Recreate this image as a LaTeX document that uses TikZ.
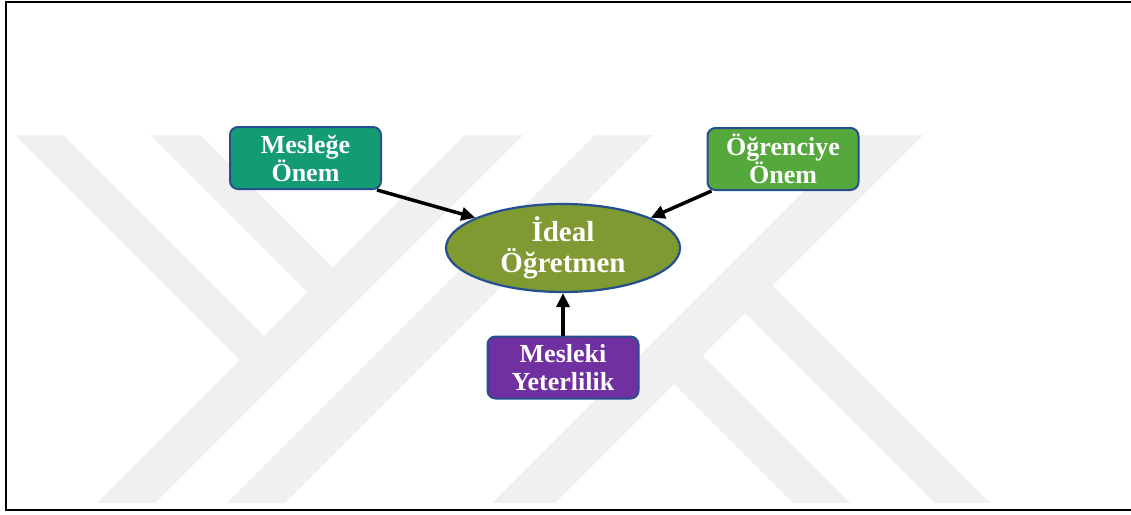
\documentclass[tikz,border=0pt]{standalone}
\usepackage{fontspec}
\setmainfont{Liberation Serif}
\usetikzlibrary{arrows.meta,shapes.geometric}

\definecolor{wmark}{HTML}{F0F0F0}
\definecolor{edgeblue}{HTML}{24508F}
\definecolor{tealbox}{HTML}{139B74}
\definecolor{greenbox}{HTML}{55A93C}
\definecolor{olivefill}{HTML}{7F9A32}
\definecolor{purplebox}{HTML}{7030A0}

\tikzset{
  card/.style={draw=edgeblue, line width=2pt, rounded corners=8pt,
    minimum width=151pt, minimum height=62pt, inner sep=0pt,
    align=center, text=white, font=\bfseries\fontsize{26}{28}\selectfont},
  hub/.style={ellipse, draw=edgeblue, line width=2.2pt, fill=olivefill,
    minimum width=234pt, minimum height=78pt, inner sep=0pt,
    align=center, text=white, font=\bfseries\fontsize{29}{31}\selectfont},
  arr/.style={-{Triangle[length=14pt,width=13pt]}, line width=3.5pt, black},
  band/.style={fill=wmark, draw=none}
}

\begin{document}
\begin{tikzpicture}[x=1pt, y=-1pt]
  \useasboundingbox (0,0) rectangle (1131,514);
  \fill[white] (0,0) rectangle (1131,514);

  % background watermark bands
  \begin{scope}
    \clip (8,135) rectangle (1131,503);
    % left y-shaped group
    \fill[band] (465,135) -- (523,135) -- (155,503) -- (97,503) -- cycle;
    \fill[band] (15,135) -- (63,135) -- (278.5,350.5) -- (254.5,374.5) -- cycle;
    \fill[band] (150,135) -- (200,135) -- (347,282) -- (322,307) -- cycle;
    % single stroke
    \fill[band] (595,135) -- (653,135) -- (285,503) -- (227,503) -- cycle;
    % k-shaped group
    \fill[band] (860,135) -- (923,135) -- (555,503) -- (492,503) -- cycle;
    \fill[band] (729,297) -- (756.5,269.5) -- (990,503) -- (935,503) -- cycle;
    \fill[band] (658,368) -- (686.5,339.5) -- (850,503) -- (793,503) -- cycle;
  \end{scope}

  % frame
  \draw[line width=2.5pt] (1131,2) -- (6,2) -- (6,510) -- (1131,510);

  % nodes
  \node[card, fill=tealbox]   (m) at (305.5,158) {Mesleğe\\Önem};
  \node[card, fill=greenbox]  (o) at (783,159)   {Öğrenciye\\Önem};
  \node[hub]                  (i) at (563,248)   {İdeal\\Öğretmen};
  \node[card, fill=purplebox] (k) at (563,367.5) {Mesleki\\Yeterlilik};

  % connectors
  \draw[arr] ([xshift=-5pt]m.south east) -- (i.161);
  \draw[arr] ([xshift=5pt]o.south west) -- (i.19);
  \draw[arr] (k.north) -- (i.south);
\end{tikzpicture}
\end{document}
